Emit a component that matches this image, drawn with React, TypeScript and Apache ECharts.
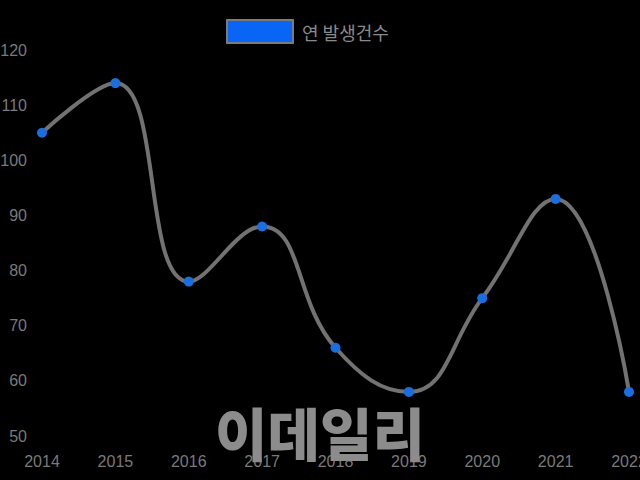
import React, { useEffect, useRef } from "react";
import * as echarts from "echarts";

const years = ["2014", "2015", "2016", "2017", "2018", "2019", "2020", "2021", "2022"];
const counts = [105, 114, 78, 88, 66, 58, 75, 93, 58];
const seriesName = "연 발생건수";
const watermark = "이데일리";

export default function App() {
  const ref = useRef<HTMLDivElement>(null);
  useEffect(() => {
    document.body.style.margin = "0";
    document.body.style.overflow = "hidden";
    if (!ref.current) return;
    const chart = echarts.init(ref.current, null, { renderer: "svg", width: 640, height: 480 });
    chart.setOption({
      animation: false,
      backgroundColor: "#000",
      textStyle: { fontFamily: "Liberation Sans, Arial, sans-serif" },
      legend: {
        data: [{ name: seriesName, icon: "rect" }],
        left: 221,
        top: 14,
        itemWidth: 66,
        itemHeight: 23,
        itemGap: 10,
        itemStyle: { color: "#0a64f5", borderColor: "#7a7a7a", borderWidth: 2 },
        textStyle: { color: "#8a8a8a", fontSize: 18, padding: [0, 0, 0, 4], fontFamily: "Noto Sans CJK KR, sans-serif" },
      },
      grid: { left: 42, right: 11, top: 50, bottom: 44, containLabel: false, outerBoundsMode: "none" },
      xAxis: {
        type: "category",
        data: years,
        boundaryGap: false,
        axisLine: { show: false },
        axisTick: { show: false },
        splitLine: { show: false },
        axisLabel: { color: "#7a7a7a", fontSize: 16, margin: 17 },
      },
      yAxis: {
        type: "value",
        min: 50,
        max: 120,
        interval: 10,
        axisLine: { show: false },
        axisTick: { show: false },
        splitLine: { show: false },
        axisLabel: { color: "#7a7a7a", fontSize: 16, margin: 15 },
      },
      graphic: [
        {
          type: "text",
          left: "center",
          top: 402,
          z: 100,
          style: {
            text: watermark,
            fill: "#8c8c8c",
            font: "900 57px 'Noto Sans CJK KR', sans-serif",
          },
        },
      ],
      series: [
        {
          name: seriesName,
          type: "line",
          data: counts,
          smooth: 0.45,
          symbol: "circle",
          symbolSize: 10,
          lineStyle: { color: "#727272", width: 4 },
          itemStyle: { color: "#1a6fe0" },
        },
      ],
    });
    return () => chart.dispose();
  }, []);
  return <div ref={ref} style={{ width: 640, height: 480 }} />;
}
